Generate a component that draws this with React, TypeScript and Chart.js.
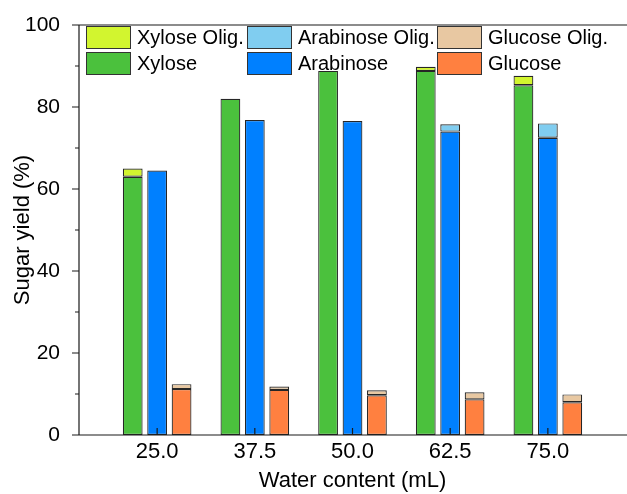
import React, { useEffect, useRef } from "react";
import { Chart, registerables } from "chart.js";

Chart.register(...registerables);

const categories = [25, 37.5, 50, 62.5, 75];
const xylose = [63.0, 82.0, 88.8, 88.8, 85.3];
const xyloseOlig = [2.0, 0, 0, 1.0, 2.3];
const arabinose = [64.5, 76.8, 76.6, 74.0, 72.5];
const arabinoseOlig = [0, 0, 0, 1.8, 3.5];
const glucose = [11.2, 11.0, 9.7, 8.7, 8.0];
const glucoseOlig = [1.2, 0.8, 1.2, 1.7, 1.9];
const yTicks = [0, 20, 40, 60, 80, 100];
const yMinorTicks = [10, 30, 50, 70, 90];

const FONT = "'Liberation Sans', Arial, sans-serif";

const toPoints = (arr: number[]) =>
  arr.map((v, i) => ({ x: categories[i], y: v === 0 ? null : v }));

const legendOrder = [
  ["Xylose Olig.", "Arabinose Olig.", "Glucose Olig."],
  ["Xylose", "Arabinose", "Glucose"],
];

const axesPlugin = {
  id: "originAxes",
  afterDraw(chart: any) {
    const { ctx, chartArea } = chart;
    const xs = chart.scales.x;
    const ys = chart.scales.y;
    const { left, right, top, bottom } = chartArea;
    ctx.save();
    ctx.strokeStyle = "#1a1a1a";
    ctx.lineWidth = 1.2;
    ctx.beginPath();
    ctx.moveTo(left, top);
    ctx.lineTo(right + 2, top);
    ctx.moveTo(left, top);
    ctx.lineTo(left, bottom);
    ctx.lineTo(right + 2, bottom);
    yTicks.forEach((v) => {
      const y = ys.getPixelForValue(v);
      ctx.moveTo(left, y);
      ctx.lineTo(left - 7, y);
    });
    yMinorTicks.forEach((v) => {
      const y = ys.getPixelForValue(v);
      ctx.moveTo(left, y);
      ctx.lineTo(left - 4, y);
    });
    categories.forEach((c) => {
      const x = xs.getPixelForValue(c);
      ctx.moveTo(x, bottom);
      ctx.lineTo(x, bottom - 7);
    });
    ctx.stroke();

    // legend
    const colX = [7, 168, 358];
    const rowY = [1, 27];
    const byLabel: Record<string, any> = {};
    chart.data.datasets.forEach((d: any) => (byLabel[d.label] = d));
    ctx.font = `20px ${FONT}`;
    ctx.textBaseline = "middle";
    ctx.textAlign = "left";
    legendOrder.forEach((row, r) => {
      row.forEach((label, c) => {
        const d = byLabel[label];
        const bx = left + colX[c];
        const by = top + rowY[r];
        ctx.fillStyle = d.backgroundColor;
        ctx.fillRect(bx, by, 45, 23);
        ctx.strokeStyle = "#333";
        ctx.lineWidth = 1;
        ctx.strokeRect(bx + 0.5, by + 0.5, 44, 22);
        ctx.fillStyle = "#000";
        ctx.fillText(label, bx + 51, by + 12);
      });
    });
    ctx.restore();
  },
};

export default function App() {
  const ref = useRef<HTMLCanvasElement>(null);
  useEffect(() => {
    if (!ref.current) return;
    const mk = (label: string, data: number[], color: string, stack: string) => ({
      label,
      data: toPoints(data),
      backgroundColor: color,
      borderColor: "#262626",
      borderWidth: 1.2,
      borderSkipped: false,
      stack,
    });
    const chart = new Chart(ref.current, {
      type: "bar",
      data: {
        datasets: [
          mk("Xylose", xylose, "#4bc13d", "x"),
          mk("Xylose Olig.", xyloseOlig, "#d2f52f", "x"),
          mk("Arabinose", arabinose, "#0080ff", "a"),
          mk("Arabinose Olig.", arabinoseOlig, "#80cdf0", "a"),
          mk("Glucose", glucose, "#ff8040", "g"),
          mk("Glucose Olig.", glucoseOlig, "#e8c8a2", "g"),
        ] as any,
      },
      options: {
        responsive: false,
        animation: false,
        categoryPercentage: 0.75,
        barPercentage: 0.81,
        layout: { padding: { top: 25, right: 1, left: 0, bottom: 0 } },
        plugins: { legend: { display: false }, tooltip: { enabled: false } },
        scales: {
          x: {
            type: "linear",
            stacked: true,
            offset: false,
            min: 15,
            max: 85,
            grid: { display: false, offset: false },
            border: { display: false },
            afterBuildTicks: (s: any) => {
              s.ticks = categories.map((v) => ({ value: v }));
            },
            afterFit: (s: any) => {
              s.height = 59;
            },
            ticks: {
              autoSkip: false,
              maxRotation: 0,
              padding: -4,
              color: "#000",
              font: { family: FONT, size: 22 },
              callback: (v: any) => Number(v).toFixed(1),
            },
            title: {
              display: true,
              text: "Water content (mL)",
              color: "#000",
              font: { family: FONT, size: 22 },
              padding: { top: -1, bottom: 0 },
            },
          },
          y: {
            stacked: true,
            min: 0,
            max: 100,
            grid: { display: false },
            border: { display: false },
            afterBuildTicks: (s: any) => {
              s.ticks = yTicks.map((v) => ({ value: v }));
            },
            afterFit: (s: any) => {
              s.width = 79;
            },
            ticks: {
              padding: 11,
              color: "#000",
              font: { family: FONT, size: 21 },
            },
            title: {
              display: true,
              text: "Sugar yield (%)",
              color: "#000",
              font: { family: FONT, size: 22 },
              padding: { top: 10, bottom: 0 },
            },
          },
        },
      } as any,
      plugins: [axesPlugin],
    });
    return () => chart.destroy();
  }, []);
  return (
    <canvas
      ref={ref}
      width={627}
      height={494}
      style={{ position: "fixed", left: 0, top: 0 }}
    />
  );
}
